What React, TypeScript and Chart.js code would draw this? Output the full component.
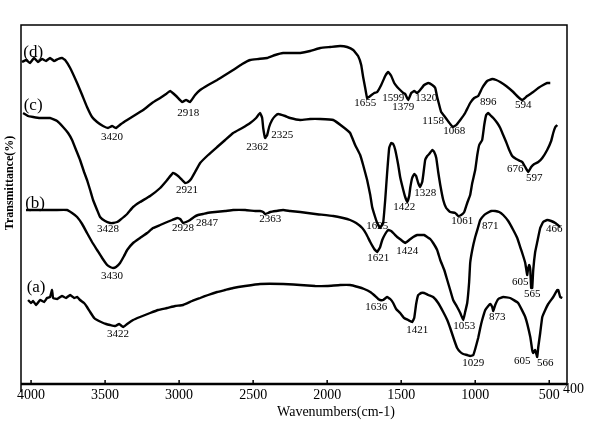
import React, { useEffect, useRef } from "react";
import { Chart, registerables } from "chart.js";
Chart.register(...registerables);

// x-axis tick labels (wavenumber, cm-1)
const xTicks = [4000, 3500, 3000, 2500, 2000, 1500, 1000, 500];
const xEndLabel = 400;

// Spectrum (d)
const dWn = [4061,4034,4007,3980,3953,3926,3899,3872,3845,3818,3791,3770,3736,3689,3655,3622,3588,3554,3514,3480,3453,3426,3392,3351,3297,3243,3182,3128,3088,3061,3020,2980,2953,2926,2892,2858,2804,2743,2689,2635,2574,2520,2466,2405,2351,2297,2230,2182,2115,2047,1980,1912,1865,1824,1791,1770,1757,1743,1730,1709,1682,1662,1635,1608,1588,1567,1547,1527,1507,1486,1473,1453,1432,1412,1392,1372,1345,1317,1290,1270,1257,1243,1230,1209,1189,1169,1149,1128,1101,1068,1034,1007,980,953,919,885,858,831,791,743,710,682,649,608,574,541,514,493];
const dT = [322,324,321,326,322,325,323,326,323,325,326,324,316,301,289,277,267,262,258,256,258,256,260,264,269,274,281,286,290,293,288,282,284,282,289,294,299,304,309,314,320,324,325,326,329,331,331,331,333,336,337,338,337,334,328,319,307,296,286,288,291,292,299,308,312,308,301,297,294,291,290,284,291,293,291,294,299,301,299,296,287,279,272,268,264,260,257,259,264,271,281,286,288,296,303,305,304,302,298,292,287,284,288,292,296,299,301,301];

// Spectrum (c)
const cWn = [4054,4020,3986,3939,3872,3824,3784,3750,3723,3696,3669,3642,3622,3601,3581,3554,3534,3500,3466,3446,3419,3399,3351,3311,3264,3196,3128,3081,3041,3007,2980,2959,2939,2919,2892,2858,2804,2743,2689,2635,2574,2520,2480,2453,2439,2432,2419,2405,2392,2372,2351,2331,2284,2250,2182,2115,2047,1959,1892,1845,1811,1777,1757,1730,1709,1696,1676,1662,1642,1622,1608,1595,1581,1568,1554,1540,1520,1507,1486,1473,1459,1446,1439,1426,1412,1399,1385,1372,1358,1351,1338,1324,1311,1290,1277,1263,1250,1236,1216,1196,1169,1135,1115,1095,1074,1054,1034,1020,1000,986,973,953,939,926,912,899,878,851,831,811,791,770,750,723,696,682,662,642,622,601,574,547,514,487,473,459,446];
const cT = [271,268,267,266,266,263,257,251,244,234,224,212,204,194,184,174,167,163,161,161,162,164,170,177,182,188,196,204,211,208,204,201,202,205,212,221,229,237,244,251,256,261,266,271,266,256,246,249,257,264,268,270,268,266,264,265,265,264,257,251,239,229,219,204,189,177,167,161,156,161,184,211,236,241,240,234,219,207,194,187,182,188,196,206,210,208,201,197,202,209,224,228,230,234,232,226,212,199,184,176,172,171,168,169,172,181,189,201,214,229,239,244,259,269,271,269,266,261,256,249,242,234,228,225,223,222,217,212,217,220,222,226,234,243,251,257,259];

// Spectrum (b)
const bWn = [4034,3939,3838,3757,3723,3689,3655,3622,3588,3554,3520,3486,3466,3446,3426,3399,3372,3351,3311,3264,3216,3176,3128,3081,3047,3013,2993,2973,2953,2926,2899,2872,2838,2811,2757,2689,2635,2554,2486,2453,2432,2419,2399,2385,2345,2297,2250,2182,2081,1959,1892,1845,1804,1763,1736,1709,1682,1662,1642,1628,1608,1588,1568,1547,1527,1500,1473,1446,1419,1392,1372,1345,1324,1304,1284,1257,1236,1209,1189,1169,1149,1122,1101,1081,1068,1054,1041,1034,1020,1000,980,966,939,919,892,865,838,811,777,743,716,696,676,662,649,642,635,628,622,615,608,595,581,561,541,514,487,459,426];
const bT = [174,174,174,174,171,167,160,151,142,134,126,119,117,116,117,121,128,134,141,146,151,156,159,162,164,166,165,161,162,164,167,169,170,171,172,173,174,174,173,173,172,170,171,172,173,174,173,172,170,168,166,164,161,156,150,142,135,132,137,144,150,154,153,150,147,144,141,144,147,149,149,149,147,145,141,134,124,114,104,94,84,77,71,64,72,81,102,121,134,147,157,164,169,171,173,173,172,169,163,154,146,137,128,121,109,116,119,114,96,96,114,132,142,156,162,164,163,161,157];

// Spectrum (a)
const aWn = [4020,4000,3986,3966,3939,3912,3892,3872,3858,3851,3824,3791,3764,3736,3709,3689,3669,3642,3622,3601,3574,3554,3527,3493,3466,3432,3405,3378,3351,3311,3264,3196,3142,3081,3027,2973,2912,2858,2804,2743,2689,2635,2554,2453,2297,2182,2081,2000,1912,1845,1791,1750,1709,1676,1655,1642,1622,1595,1574,1554,1534,1507,1480,1453,1426,1412,1399,1385,1365,1345,1317,1284,1250,1216,1189,1169,1142,1122,1101,1081,1054,1034,1013,1000,980,966,953,932,912,899,885,878,865,844,811,764,710,662,628,615,608,595,581,574,561,547,527,507,473,446,439,426,412];
const aT = [84,81,83,79,84,82,86,87,94,86,85,88,86,89,86,87,84,81,77,72,66,64,62,60,59,58,60,57,60,64,67,71,74,76,78,79,83,86,89,92,94,96,98,100,100,99,98,98,99,99,97,95,92,88,85,84,84,87,85,81,75,71,66,64,62,66,80,89,91,91,89,87,81,72,64,56,44,36,32,30,29,28,29,35,46,56,64,74,78,80,77,73,79,85,87,86,81,67,47,34,31,34,27,37,51,67,74,80,87,94,94,87,86];

// Peak annotations: [text, wavenumber position, level]
const peaksD: [string, number, number][] = [["3420",3453,247],["2918",2939,271],["1655",1743,281],["1599",1554,286],["1379",1486,277],["1320",1331,286],["1158",1284,263],["1068",1142,253],["896",912,282],["594",676,279]];
const peaksC: [string, number, number][] = [["3428",3480,155],["2921",2946,194],["2362",2473,237],["2325",2304,249],["1625",1662,158],["1422",1480,177],["1328",1338,191],["1061",1088,163],["676",730,215],["597",601,206]];
const peaksB: [string, number, number][] = [["3430",3453,108],["2928",2973,156],["2847",2811,161],["2363",2385,165],["1621",1655,126],["1424",1459,133],["1053",1074,58],["871",899,158],["605",696,102],["565",615,90],["466",466,155]];
const peaksA: [string, number, number][] = [["3422",3412,50],["1636",1669,77],["1421",1392,54],["1029",1013,21],["873",851,67],["605",682,23],["566",527,21]];

// Curve tags: [text, wavenumber, level]
const curveTags: [string, number, number][] = [["(d)",3986,331],["(c)",3986,278],["(b)",3973,180],["(a)",3966,96]];

const xTitle = "Wavenumbers(cm-1)";
const yTitle = "Transmittance(%)";

const SERIF = "'Liberation Serif', 'Times New Roman', serif";

function series(wn: number[], t: number[]) {
  return {
    data: wn.map((x, i) => ({ x, y: t[i] })),
    borderColor: "#000",
    borderWidth: 2.4,
    pointRadius: 0,
    tension: 0.1,
    fill: false,
  };
}

const overlay = {
  id: "overlay",
  afterDatasetsDraw(chart: any) {
    const { ctx, chartArea: ca, scales } = chart;
    const x = scales.x;
    const y = scales.y;
    ctx.save();
    ctx.strokeStyle = "#000";
    ctx.lineWidth = 1.5;
    ctx.beginPath();
    ctx.moveTo(ca.left, ca.bottom + 8);
    ctx.lineTo(ca.left, ca.top);
    ctx.lineTo(ca.right, ca.top);
    ctx.lineTo(ca.right, ca.bottom + 1);
    ctx.stroke();
    ctx.lineWidth = 2.5;
    ctx.beginPath();
    ctx.moveTo(ca.left, ca.bottom);
    ctx.lineTo(ca.right, ca.bottom);
    ctx.stroke();
    ctx.lineWidth = 1.5;
    for (const v of xTicks) {
      const px = x.getPixelForValue(v);
      ctx.beginPath();
      ctx.moveTo(px, ca.bottom);
      ctx.lineTo(px, ca.bottom - 4);
      ctx.stroke();
    }
    ctx.fillStyle = "#000";
    ctx.font = `14px ${SERIF}`;
    ctx.textAlign = "left";
    ctx.textBaseline = "middle";
    ctx.fillText(String(xEndLabel), x.getPixelForValue(xEndLabel) - 1, ca.bottom + 5);

    ctx.font = `11px ${SERIF}`;
    ctx.textAlign = "center";
    for (const list of [peaksD, peaksC, peaksB, peaksA]) {
      for (const [t, wx, wy] of list) {
        ctx.fillText(t, x.getPixelForValue(wx), y.getPixelForValue(wy));
      }
    }
    ctx.font = `17px ${SERIF}`;
    for (const [t, wx, wy] of curveTags) {
      ctx.fillText(t, x.getPixelForValue(wx), y.getPixelForValue(wy));
    }
    ctx.font = `14px ${SERIF}`;
    ctx.fillText(xTitle, 336, 412);
    ctx.translate(10, 183);
    ctx.rotate(-Math.PI / 2);
    ctx.font = `bold 12px ${SERIF}`;
    ctx.fillText(yTitle, 0, 0);
    ctx.restore();
  },
};

export default function App() {
  const ref = useRef<HTMLCanvasElement>(null);
  useEffect(() => {
    document.body.style.margin = "0";
    const chart = new Chart(ref.current as HTMLCanvasElement, {
      type: "line",
      data: {
        datasets: [series(dWn, dT), series(cWn, cT), series(bWn, bT), series(aWn, aT)],
      },
      options: {
        responsive: false,
        animation: false,
        devicePixelRatio: 1,
        layout: { padding: { left: 21, top: 25, right: 33, bottom: 0 } },
        plugins: { legend: { display: false }, tooltip: { enabled: false } },
        scales: {
          x: {
            type: "linear",
            reverse: true,
            min: 380,
            max: 4068,
            afterBuildTicks: (s: any) => {
              s.ticks = xTicks.map((v) => ({ value: v }));
            },
            afterFit: (s: any) => {
              s.height = 47;
            },
            grid: { display: false, drawTicks: false },
            border: { display: false },
            ticks: {
              color: "#000",
              font: { family: SERIF, size: 14 },
              padding: 3,
              maxRotation: 0,
              autoSkip: false,
              callback: (v: any) => String(v),
            },
          },
          y: { display: false, min: 0, max: 359 },
        },
      },
      plugins: [overlay],
    } as any);
    return () => chart.destroy();
  }, []);
  return <canvas ref={ref} width={600} height={431} style={{ display: "block", width: 600, height: 431 }} />;
}
